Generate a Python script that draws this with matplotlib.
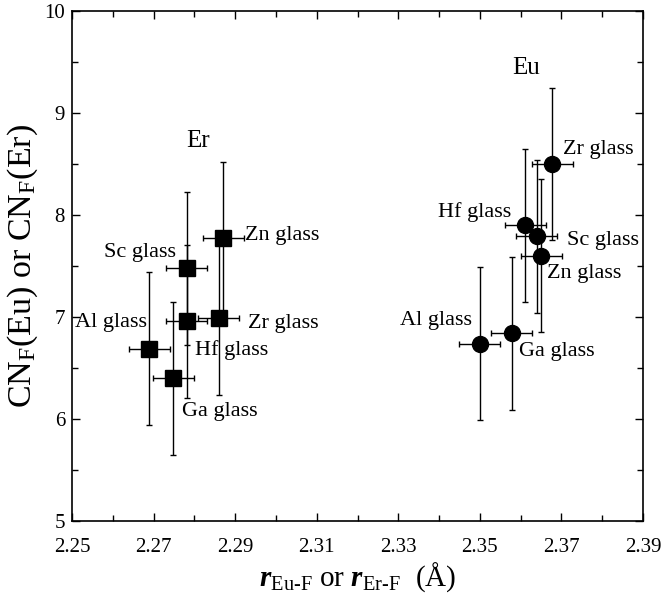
import matplotlib
matplotlib.use('Agg')
import matplotlib.pyplot as plt
from matplotlib.ticker import MultipleLocator

plt.rcParams['font.family'] = ['Liberation Serif', 'DejaVu Serif']
plt.rcParams['mathtext.fontset'] = 'custom'
plt.rcParams['mathtext.rm'] = 'Liberation Serif'
plt.rcParams['mathtext.it'] = 'Liberation Serif:italic'
plt.rcParams['mathtext.bf'] = 'Liberation Serif:bold'
plt.rcParams['mathtext.bfit'] = 'Liberation Serif:italic:bold'

# Er glasses (squares)
er_names = ['Zn glass', 'Sc glass', 'Hf glass', 'Zr glass', 'Al glass', 'Ga glass']
er_r = [2.2871, 2.2781, 2.2781, 2.2860, 2.2690, 2.2748]
er_cn = [7.77, 7.48, 6.96, 6.99, 6.69, 6.40]
er_rerr = [0.005, 0.005, 0.005, 0.005, 0.005, 0.005]
er_cnerr = [0.75, 0.75, 0.75, 0.75, 0.75, 0.75]

# Eu glasses (circles)
eu_names = ['Zr glass', 'Hf glass', 'Sc glass', 'Zn glass', 'Al glass', 'Ga glass']
eu_r = [2.3678, 2.3611, 2.3639, 2.3651, 2.3500, 2.3578]
eu_cn = [8.50, 7.90, 7.79, 7.60, 6.74, 6.84]
eu_rerr = [0.005, 0.005, 0.005, 0.005, 0.005, 0.005]
eu_cnerr = [0.75, 0.75, 0.75, 0.75, 0.75, 0.75]

# label anchors (x, y, horizontal alignment)
er_lab = [(2.2924, 7.80, 'left'), (2.2755, 7.63, 'right'), (2.2802, 6.68, 'left'),
          (2.2932, 6.94, 'left'), (2.2508, 6.95, 'left'), (2.2769, 6.07, 'left')]
eu_lab = [(2.3703, 8.64, 'left'), (2.3578, 8.03, 'right'), (2.3713, 7.75, 'left'),
          (2.3665, 7.43, 'left'), (2.3480, 6.97, 'right'), (2.3597, 6.66, 'left')]

fig = plt.figure(figsize=(6.61, 6.02), dpi=100)
ax = fig.add_axes([0.1089, 0.1346, 0.8639, 0.8471])

ax.errorbar(er_r, er_cn, xerr=er_rerr, yerr=er_cnerr, fmt='s', color='black',
            ms=11.5, elinewidth=1, capsize=2.5, capthick=1)
ax.errorbar(eu_r, eu_cn, xerr=eu_rerr, yerr=eu_cnerr, fmt='o', color='black',
            ms=11.5, elinewidth=1, capsize=2.5, capthick=1)

for name, (x, y, ha) in zip(er_names, er_lab):
    ax.text(x, y, name, ha=ha, va='center', fontsize=16)
for name, (x, y, ha) in zip(eu_names, eu_lab):
    ax.text(x, y, name, ha=ha, va='center', fontsize=16)

ax.text(2.2808, 8.73, 'Er', ha='center', va='center', fontsize=18)
ax.text(2.3613, 9.44, 'Eu', ha='center', va='center', fontsize=18)

ax.set_xlim(2.25, 2.39)
ax.set_ylim(5, 10)
ax.set_xticks([2.25, 2.27, 2.29, 2.31, 2.33, 2.35, 2.37, 2.39])
ax.set_xticklabels(['2.25', '2.27', '2.29', '2.31', '2.33', '2.35', '2.37', '2.39'])
ax.xaxis.set_minor_locator(MultipleLocator(0.01))
ax.yaxis.set_major_locator(MultipleLocator(1))
ax.yaxis.set_minor_locator(MultipleLocator(0.5))
ax.tick_params(which='both', direction='in', top=True, right=True, labelsize=15, width=1)
ax.tick_params(which='major', length=6)
ax.tick_params(which='minor', length=4)
ax.tick_params(axis='x', which='major', pad=12)
ax.tick_params(axis='y', which='major', pad=5)
for s in ax.spines.values():
    s.set_linewidth(1.2)

ax.set_xlabel(r'$\mathbfit{r}_{\text{Eu-F}}$ or $\mathbfit{r}_{\text{Er-F}}$  (Å)', fontsize=21, labelpad=3)
ax.set_ylabel(r'CN$_{\mathrm{F}}$(Eu) or CN$_{\mathrm{F}}$(Er)', fontsize=24.5, labelpad=3)

fig.savefig('out.png', dpi=100)
